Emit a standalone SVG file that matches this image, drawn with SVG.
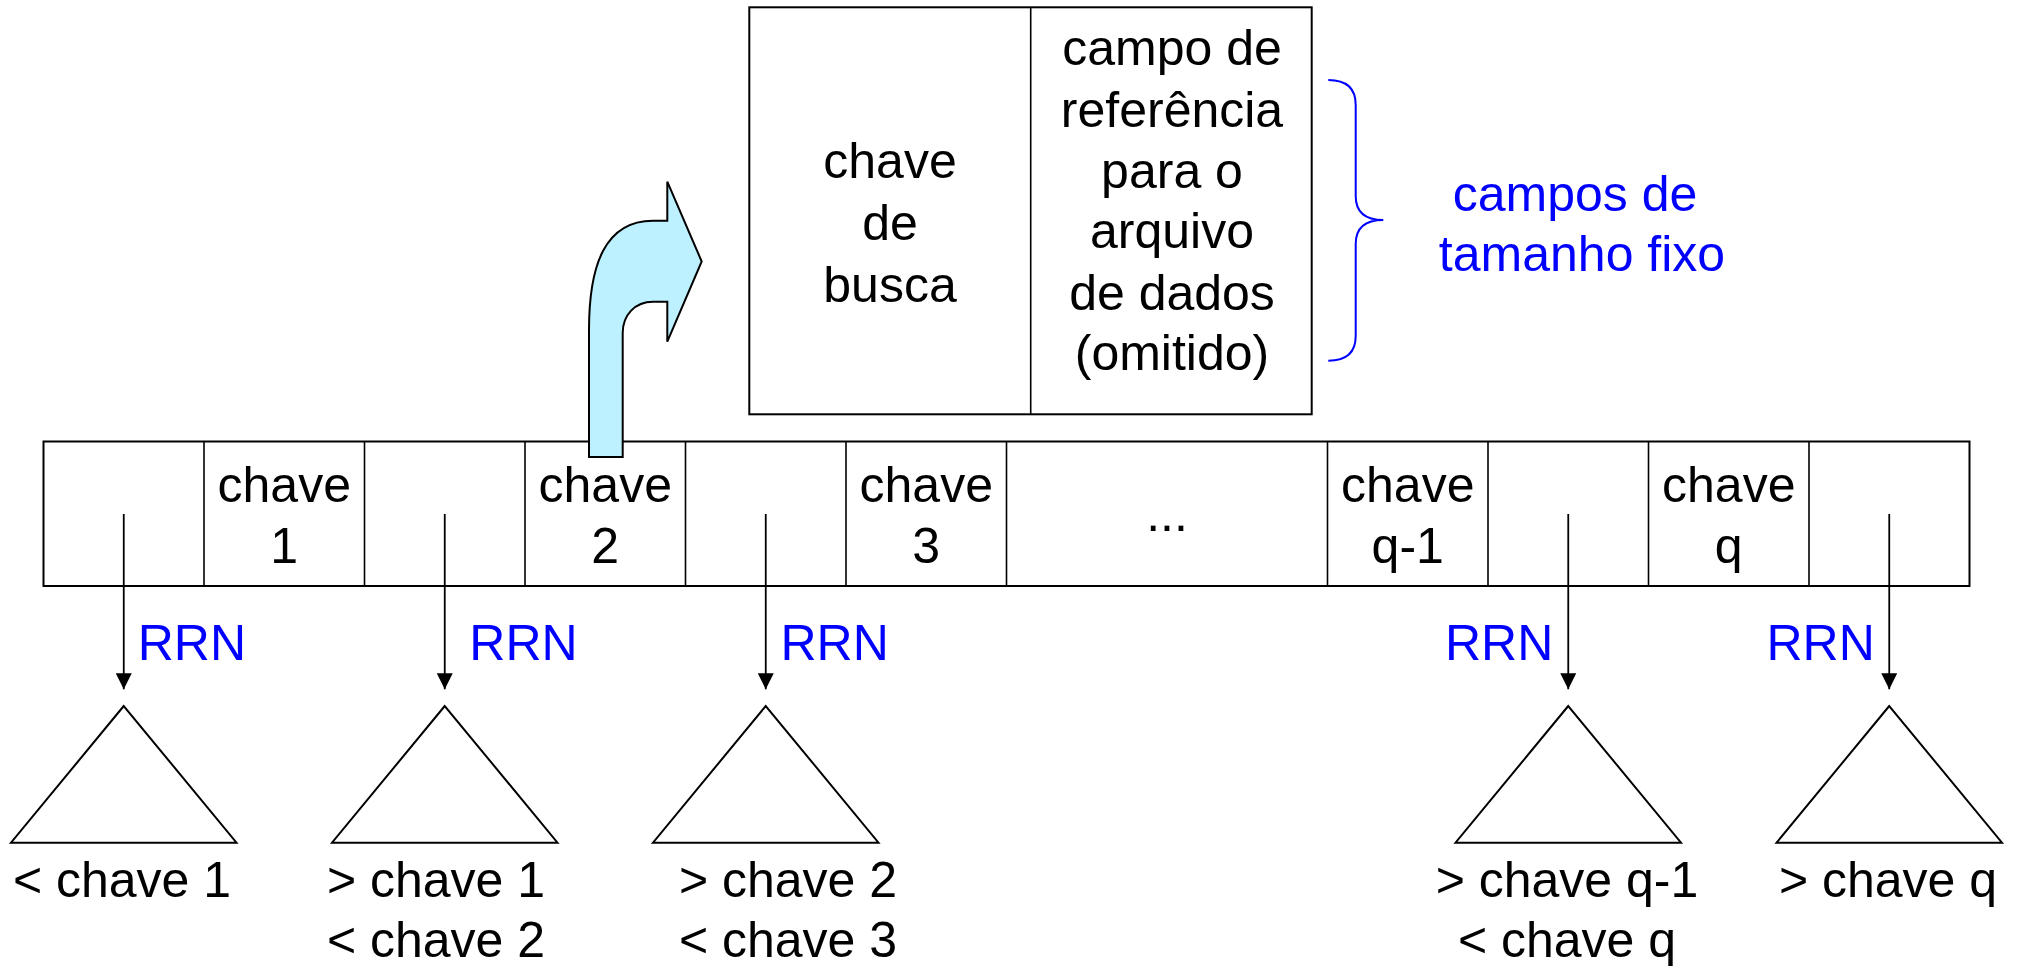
<svg xmlns="http://www.w3.org/2000/svg" width="2017" height="966" viewBox="0 0 2017 966">
<style>
text{font-family:"Liberation Sans",Arial,sans-serif;font-size:50px;fill:#000}
.c{text-anchor:middle}
.blue{fill:#0000FF}
.box{fill:#fff;stroke:#000;stroke-width:2}
.div{stroke:#000;stroke-width:1.6;fill:none}
.tri{fill:#fff;stroke:#000;stroke-width:2}
.conn{stroke:#000;stroke-width:1.8;fill:none}
</style>
<defs>
<marker id="ah" viewBox="0 0 16 16" refX="16" refY="8" markerWidth="16" markerHeight="16" markerUnits="userSpaceOnUse" orient="auto">
<path d="M0,0 L16,8 L0,16 Z" fill="#000"/>
</marker>
</defs>
<rect width="2017" height="966" fill="#fff"/>

<g id="registro">
<rect class="box" x="749.3" y="7.3" width="562.4" height="407"/>
<line class="div" x1="1030.7" y1="7.3" x2="1030.7" y2="414.3"/>
<text class="c" x="890" y="178.3">chave</text>
<text class="c" x="890" y="240">de</text>
<text class="c" x="890" y="301.7">busca</text>
<text class="c" x="1172" y="65">campo de</text>
<text class="c" x="1172" y="126.7">referência</text>
<text class="c" x="1172" y="187.7">para o</text>
<text class="c" x="1172" y="248.3">arquivo</text>
<text class="c" x="1172" y="310">de dados</text>
<text class="c" x="1172" y="370">(omitido)</text>
</g>

<g id="chave-brace">
<path d="M1328.3,80 Q1355.7,80 1355.7,105 L1355.7,196 Q1355.7,220 1383.3,220 Q1355.7,220 1355.7,244 L1355.7,336 Q1355.7,360.7 1328.3,360.7" fill="none" stroke="#0000FF" stroke-width="2"/>
<text class="c blue" x="1575" y="211">campos de</text>
<text class="c blue" x="1582" y="270.7">tamanho fixo</text>
</g>

<g id="pagina">
<rect class="box" x="43.5" y="441.5" width="1926" height="144.5"/>
<line class="div" x1="204" y1="441.5" x2="204" y2="586"/>
<line class="div" x1="364.5" y1="441.5" x2="364.5" y2="586"/>
<line class="div" x1="525" y1="441.5" x2="525" y2="586"/>
<line class="div" x1="685.5" y1="441.5" x2="685.5" y2="586"/>
<line class="div" x1="846" y1="441.5" x2="846" y2="586"/>
<line class="div" x1="1006.5" y1="441.5" x2="1006.5" y2="586"/>
<line class="div" x1="1327.5" y1="441.5" x2="1327.5" y2="586"/>
<line class="div" x1="1488" y1="441.5" x2="1488" y2="586"/>
<line class="div" x1="1648.5" y1="441.5" x2="1648.5" y2="586"/>
<line class="div" x1="1809" y1="441.5" x2="1809" y2="586"/>
<text class="c" x="284.25" y="501.7">chave</text>
<text class="c" x="284.25" y="563.3">1</text>
<text class="c" x="605.25" y="501.7">chave</text>
<text class="c" x="605.25" y="563.3">2</text>
<text class="c" x="926.25" y="501.7">chave</text>
<text class="c" x="926.25" y="563.3">3</text>
<text class="c" x="1167" y="531">...</text>
<text class="c" x="1407.75" y="501.7">chave</text>
<text class="c" x="1407.75" y="563.3">q-1</text>
<text class="c" x="1728.75" y="501.7">chave</text>
<text class="c" x="1728.75" y="563.3">q</text>
</g>

<g id="seta-curva">
<path d="M589,457 L589,330 C589,265 605,220.7 653,220.7 L667.3,220.7 L667.3,181.7 L701.7,261.5 L667.3,341.7 L667.3,301.7 L653,301.7 C635,301.7 622.7,315 622.7,333 L622.7,457 Z" fill="#BEF1FF" stroke="#000" stroke-width="2" stroke-linejoin="miter"/>
</g>

<g id="sub1">
<polygon class="tri" points="123.75,706 11,842.7 236.5,842.7"/>
<text class="c" x="122" y="896.7">&lt; chave 1</text>
</g>
<g id="sub2">
<polygon class="tri" points="444.75,706 332,842.7 557.5,842.7"/>
<text class="c" x="436" y="896.7">&gt; chave 1</text>
<text class="c" x="436" y="956.7">&lt; chave 2</text>
</g>
<g id="sub3">
<polygon class="tri" points="765.75,706 653,842.7 878.5,842.7"/>
<text class="c" x="788" y="896.7">&gt; chave 2</text>
<text class="c" x="788" y="956.7">&lt; chave 3</text>
</g>
<g id="sub4">
<polygon class="tri" points="1568.25,706 1455.5,842.7 1681,842.7"/>
<text class="c" x="1567" y="896.7">&gt; chave q-1</text>
<text class="c" x="1567" y="956.7">&lt; chave q</text>
</g>
<g id="sub5">
<polygon class="tri" points="1889.25,706 1776.5,842.7 2002,842.7"/>
<text class="c" x="1888" y="896.7">&gt; chave q</text>
</g>

<g id="connectors">
<line class="conn" x1="123.75" y1="514" x2="123.75" y2="689.3" marker-end="url(#ah)"/>
<line class="conn" x1="444.75" y1="514" x2="444.75" y2="689.3" marker-end="url(#ah)"/>
<line class="conn" x1="765.75" y1="514" x2="765.75" y2="689.3" marker-end="url(#ah)"/>
<line class="conn" x1="1568.25" y1="514" x2="1568.25" y2="689.3" marker-end="url(#ah)"/>
<line class="conn" x1="1889.25" y1="514" x2="1889.25" y2="689.3" marker-end="url(#ah)"/>
<text class="blue" x="137.7" y="660">RRN</text>
<text class="blue" x="469.3" y="660">RRN</text>
<text class="blue" x="780.5" y="660">RRN</text>
<text class="blue" x="1445" y="660">RRN</text>
<text class="blue" x="1766.5" y="660">RRN</text>
</g>
</svg>
